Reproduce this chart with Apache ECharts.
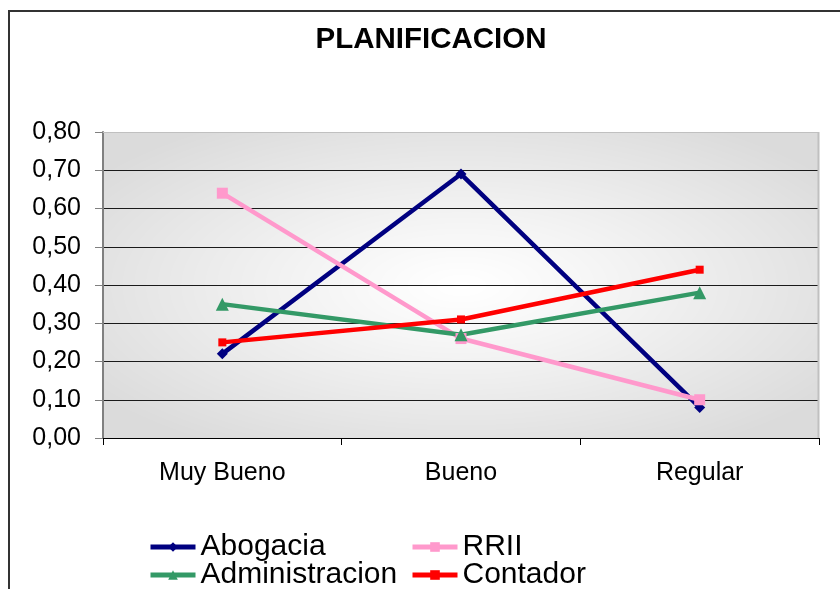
<!DOCTYPE html>
<html>
<head>
<meta charset="utf-8">
<script src="https://cdn.jsdelivr.net/npm/echarts@6/dist/echarts.min.js"></script>
<style>html,body{margin:0;padding:0;background:#fff;}#c{width:840px;height:589px;}</style>
</head>
<body>
<div id="c"></div>
<script>
var categories = ['Muy Bueno', 'Bueno', 'Regular'];
var abogacia = [0.22, 0.69, 0.08];
var rrii = [0.64, 0.26, 0.10];
var administracion = [0.35, 0.27, 0.38];
var contador = [0.25, 0.31, 0.44];
var yTicks = {min: 0, max: 0.8, interval: 0.1};

var FONT = '"Liberation Sans", Arial, sans-serif';
var G = {left: 103, top: 132, width: 716, height: 306};

// gradient background for plot area (lighter centre, grey edges)
var bg = document.createElement('canvas');
bg.width = G.width; bg.height = G.height;
(function(){
  var ctx = bg.getContext('2d');
  var img = ctx.createImageData(G.width, G.height);
  var hw = G.width / 2, hh = G.height / 2;
  for (var y = 0; y < G.height; y++) {
    for (var x = 0; x < G.width; x++) {
      var dx = (x - hw) / hw, dy = (y - hh) / hh;
      var t = Math.sqrt(dx * dx + dy * dy) / 1.25;
      if (t > 1) t = 1;
      var v = Math.round(255 - 36 * Math.pow(t, 1.1));
      var i = (y * G.width + x) * 4;
      img.data[i] = v; img.data[i+1] = v; img.data[i+2] = v; img.data[i+3] = 255;
    }
  }
  ctx.putImageData(img, 0, 0);
})();

var chart = echarts.init(document.getElementById('c'), null, {renderer: 'canvas'});

function mk(name, data, color, symbol, size) {
  return {
    name: name, type: 'line', data: data,
    symbol: symbol, symbolSize: size, showSymbol: true,
    lineStyle: {color: color, width: 4.5},
    itemStyle: {color: color},
    animation: false, z: 5
  };
}

var splitColors = [];
for (var k = 0; k < 8; k++) splitColors.push('#1a1a1a');
splitColors.push('#c0c0c0');

function legendFor(names, left) {
  return {
    data: names, left: left, top: 532, height: 120, width: 400,
    orient: 'vertical', itemWidth: 45, itemHeight: 12, itemGap: -2, itemTextGap: 8,
    textStyle: {fontFamily: FONT, fontSize: 30, color: '#000', lineHeight: 28},
    lineStyle: {width: 5},
    padding: 0
  };
}

chart.setOption({
  animation: false,
  textStyle: {fontFamily: FONT},
  title: {
    text: 'PLANIFICACION',
    left: 426, top: 20, textAlign: 'center',
    textStyle: {fontFamily: FONT, fontSize: 29.5, fontWeight: 'bold', color: '#000'}
  },
  graphic: [
    {type: 'rect', shape: {x: 9, y: 11, width: 1000, height: 1000},
     style: {fill: 'none', stroke: '#333', lineWidth: 2}, silent: true, z: 0},
    {type: 'image', left: G.left, top: G.top, z: -1,
     style: {image: bg, width: G.width, height: G.height}, silent: true},
    {type: 'line', shape: {x1: G.left, y1: G.top + 0.5, x2: G.left + G.width, y2: G.top + 0.5},
     style: {stroke: '#c0c0c0', lineWidth: 1}, silent: true, z: 1},
    {type: 'line', shape: {x1: G.left + G.width - 0.5, y1: G.top, x2: G.left + G.width - 0.5, y2: G.top + G.height},
     style: {stroke: '#c0c0c0', lineWidth: 2}, silent: true, z: 1}
  ],
  grid: {left: G.left, top: G.top, width: G.width, height: G.height, containLabel: false},
  legend: [
    legendFor(['Abogacia', 'Administracion'], 148),
    legendFor(['RRII', 'Contador'], 410)
  ],
  xAxis: {
    type: 'category', data: categories, boundaryGap: true,
    axisLine: {lineStyle: {color: '#000', width: 1}},
    axisTick: {show: true, alignWithLabel: false, inside: false, length: 7, lineStyle: {color: '#000'}},
    axisLabel: {fontFamily: FONT, fontSize: 25, color: '#000', margin: 23},
    splitLine: {show: false}
  },
  yAxis: {
    type: 'value', min: yTicks.min, max: yTicks.max, interval: yTicks.interval,
    axisLine: {show: true, lineStyle: {color: '#808080', width: 2}},
    axisTick: {show: true, length: 8, lineStyle: {color: '#808080', width: 1}},
    axisLabel: {fontFamily: FONT, fontSize: 25, color: '#000', margin: 22,
      formatter: function (v) { return v.toFixed(2).replace('.', ','); }},
    splitLine: {show: true, lineStyle: {color: splitColors, width: 1}}
  },
  series: [
    mk('Abogacia', abogacia, '#000080', 'diamond', 11),
    mk('RRII', rrii, '#ff99cc', 'rect', 11),
    mk('Administracion', administracion, '#339966', 'triangle', 13),
    mk('Contador', contador, '#ff0000', 'rect', 8)
  ]
});
</script>
</body>
</html>
